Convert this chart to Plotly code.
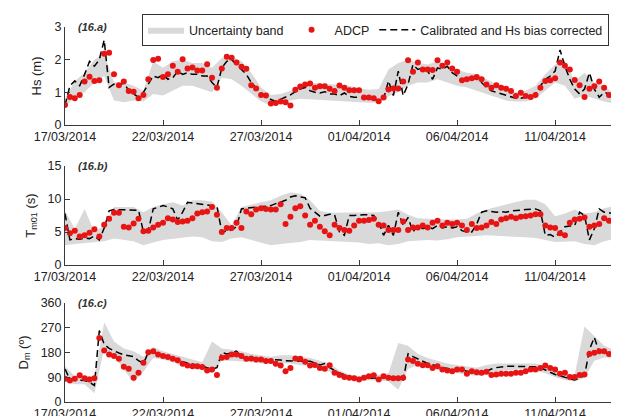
import pandas as pd
import plotly.graph_objects as go

# ---------------- data ----------------
t6 = pd.date_range("2014-03-17", periods=115, freq="6h")    # ADCP / model times
t12 = pd.date_range("2014-03-17", periods=58, freq="12h")   # uncertainty band times

tick_dates = ["2014-03-17", "2014-03-22", "2014-03-27", "2014-04-01", "2014-04-06", "2014-04-11"]
tick_labels = ["17/03/2014", "22/03/2014", "27/03/2014", "01/04/2014", "06/04/2014", "11/04/2014"]

hs_adcp = [0.61,0.86,0.82,0.92,1.33,1.48,1.35,1.37,2.18,2.21,
           1.55,1.22,1.33,1.04,1.02,0.82,0.92,1.40,1.99,2.03,
           1.47,1.55,1.81,1.63,2.01,1.73,1.76,1.67,1.67,1.86,
           1.45,1.14,1.73,2.09,2.06,1.91,1.78,1.72,1.22,1.12,
           0.92,0.90,0.66,0.67,0.72,0.70,0.60,1.08,1.18,1.24,
           1.27,1.14,1.19,1.19,1.11,1.04,1.21,1.14,1.06,1.06,
           1.06,0.84,0.84,0.82,0.73,0.84,1.09,1.12,1.12,1.33,
           1.98,1.63,1.91,1.70,1.70,1.68,1.98,1.81,1.91,1.73,
           1.63,1.37,1.40,1.43,1.47,1.40,1.24,1.14,1.22,1.14,
           1.11,1.04,0.89,0.99,0.89,0.86,0.92,1.14,1.35,1.37,
           1.43,1.91,1.81,1.70,1.38,1.22,0.86,1.11,1.19,1.33,
           1.14,0.92,0.70,0.68,0.70]
hs_model = [0.60,1.20,1.35,1.20,1.55,1.95,1.80,2.00,2.60,1.15,
            1.25,1.20,1.30,1.05,0.95,0.85,1.00,1.25,1.50,1.45,
            1.55,1.40,1.45,1.65,1.55,1.60,1.55,1.55,1.50,1.50,
            1.30,1.15,1.75,1.95,2.00,1.85,1.70,1.55,1.30,1.15,
            0.98,0.88,0.78,0.72,0.78,0.85,0.92,1.02,1.10,1.15,
            1.05,1.00,0.98,1.02,0.95,0.95,0.90,0.98,0.88,0.85,
            0.85,0.82,0.80,0.78,0.76,0.80,1.35,0.90,1.65,0.90,
            1.25,1.85,1.70,1.75,1.65,1.40,1.75,1.70,1.80,1.60,
            1.50,1.40,1.45,1.45,1.40,1.30,1.15,1.05,1.00,0.95,
            0.90,0.85,0.82,0.82,0.85,0.85,0.95,1.20,1.40,1.50,
            1.65,2.30,1.80,1.40,1.10,0.95,1.10,1.60,1.10,0.85,
            1.00,0.95,0.85,0.80,0.70]
hs_low = [0.55,0.85,1.0,1.3,1.5,0.75,0.7,0.75,0.72,0.95,
          0.9,1.05,1.2,1.2,1.1,1.0,1.45,1.4,1.2,0.95,
          0.72,0.6,0.68,0.75,0.8,0.78,0.76,0.75,0.74,0.72,
          0.7,0.68,0.7,0.88,1.0,1.2,1.3,1.3,1.4,1.3,
          1.2,1.15,1.05,0.95,0.85,0.75,0.72,0.72,0.8,1.05,
          1.3,1.2,0.8,0.9,0.8,0.72,0.65,0.62]
hs_up = [0.8,1.35,1.6,2.0,2.2,1.3,1.3,1.2,1.05,1.95,
         1.75,1.95,2.0,1.9,1.9,1.75,2.05,2.1,1.95,1.6,
         1.15,0.92,0.95,1.05,1.25,1.3,1.28,1.25,1.22,1.2,
         1.12,1.08,1.1,1.7,1.9,2.0,1.9,1.85,1.95,1.85,
         1.7,1.6,1.55,1.4,1.25,1.1,1.0,1.05,1.2,1.55,
         1.85,1.95,1.35,1.6,1.3,1.2,0.95,0.9]

tm_adcp = [5.6,4.8,5.2,4.3,4.5,4.9,5.4,4.3,6.1,7.0,
           7.9,7.9,5.8,5.7,6.3,7.0,5.1,5.2,5.7,6.1,
           6.4,7.1,6.9,6.5,6.6,6.7,7.1,7.8,8.0,8.1,
           8.8,7.6,5.0,5.6,5.6,6.4,5.6,8.1,7.7,8.4,
           8.6,8.5,8.4,8.4,9.2,6.2,7.3,8.6,8.9,7.5,
           6.1,6.7,5.8,5.1,4.5,6.1,5.6,5.3,5.2,6.0,
           6.7,6.7,6.8,7.0,6.1,6.0,5.3,5.3,5.3,6.6,
           5.3,5.7,5.7,6.0,5.7,6.4,6.7,6.0,6.4,6.2,
           6.4,6.0,5.3,6.2,5.6,5.7,6.0,6.5,6.2,6.9,
           7.1,7.3,7.1,7.3,7.4,7.5,7.7,7.7,6.0,5.7,
           5.6,4.8,4.5,6.4,6.9,7.0,7.2,5.8,6.0,6.2,
           7.1,6.7,6.6,7.6,7.9]
tm_model = [7.8,3.8,4.0,3.9,4.1,4.0,4.4,3.8,5.6,8.2,
            8.4,8.4,8.3,8.3,8.4,8.3,5.0,5.2,8.5,8.8,
            9.0,8.8,8.5,6.8,8.0,9.5,9.4,9.3,9.3,9.2,
            9.0,8.9,5.0,5.2,5.3,5.8,8.5,8.6,8.7,8.7,
            8.8,8.9,9.0,9.3,9.5,9.8,10.3,10.5,10.3,10.2,
            8.6,8.0,7.4,7.5,7.7,7.6,5.0,4.5,7.5,7.5,
            7.6,7.6,7.6,7.5,6.5,4.5,6.0,4.5,8.0,6.0,
            7.2,5.0,6.0,5.5,5.8,5.5,6.0,5.6,5.8,5.6,
            5.8,5.2,5.0,5.0,6.2,8.0,8.2,8.1,8.0,8.1,
            8.0,8.2,8.2,8.3,8.4,8.5,8.5,8.2,4.5,4.6,
            4.2,5.0,5.8,5.9,6.0,8.0,7.5,3.8,5.5,8.5,
            8.0,7.9,7.8,7.6,7.5]
tm_low = [3.0,3.2,3.4,3.5,3.6,4.0,3.8,3.6,3.0,3.4,
          3.8,4.0,4.1,4.3,4.2,3.6,3.5,4.0,4.2,3.8,
          3.4,3.0,3.2,3.4,3.5,3.8,3.8,3.7,3.6,3.5,
          3.4,3.2,3.3,3.0,3.2,3.6,3.7,3.8,3.7,3.9,
          4.2,4.3,4.4,4.5,4.5,4.4,4.3,4.2,4.1,3.8,
          3.5,3.6,3.6,3.2,3.0,3.6,3.9,4.2]
tm_up = [8.2,5.5,8.5,5.0,6.0,8.8,8.8,8.8,8.0,8.8,
         9.2,9.5,9.0,9.8,9.8,9.6,8.0,6.0,8.8,9.2,
         9.5,9.8,10.5,11.0,10.8,9.8,8.2,7.9,7.9,8.0,
         8.0,7.9,8.0,8.2,8.4,7.6,7.1,7.0,6.9,6.9,
         6.9,7.0,7.8,8.4,8.8,9.2,9.5,9.9,9.9,9.2,
         7.4,7.8,8.4,7.8,8.0,8.6,8.9,8.7]

dm_adcp = [85,78,85,97,86,82,86,233,187,173,
           167,157,128,121,88,106,143,181,185,173,
           167,164,157,152,139,133,130,130,127,115,
           118,98,161,164,173,173,167,157,158,155,
           155,149,149,139,133,112,124,158,157,146,
           133,135,124,121,134,106,98,91,88,86,
           82,88,94,97,82,94,88,86,86,88,
           155,149,139,134,134,124,130,118,115,112,
           118,118,103,112,108,106,110,98,100,103,
           103,103,106,106,112,118,118,124,133,124,
           118,103,106,91,91,98,100,175,179,185,
           185,175,173,155,155]
dm_model = [120,82,80,80,78,72,60,260,210,195,
            185,178,172,168,165,150,140,180,182,175,
            170,165,160,150,145,142,138,135,130,125,
            120,125,180,175,178,185,165,155,155,155,
            155,155,155,155,153,150,150,150,150,150,
            148,142,135,140,125,115,105,100,90,88,
            85,85,86,88,88,88,90,88,88,80,
            175,165,155,148,140,135,128,125,122,118,
            118,115,112,108,105,103,112,120,125,128,
            130,130,130,130,130,130,128,125,115,108,
            100,95,90,85,80,88,95,190,235,180,
            185,170,168,165,155]
dm_low = [75,65,65,32,195,165,120,72,110,160,
          155,145,130,122,115,105,150,150,148,145,
          140,140,140,140,135,130,120,110,88,80,
          78,78,78,75,45,120,135,125,118,110,
          105,100,95,100,110,115,118,120,115,105,
          90,80,75,88,150,162,160,150]
dm_up = [130,95,95,95,290,220,195,185,165,200,
         185,175,165,155,145,220,195,190,185,175,
         170,165,170,170,165,160,150,140,115,100,
         95,95,100,105,215,205,175,160,150,140,
         135,130,125,135,140,140,140,140,140,130,
         115,105,100,275,240,205,190,180]

y_ranges = [[0, 3], [0, 15], [0, 360]]
y_ticks = [[0, 1, 2, 3], [0, 5, 10, 15], [0, 90, 180, 270, 360]]
y_titles = ["Hs (m)", "T<sub>m01</sub> (s)", "D<sub>m</sub> (º)"]
panel_labels = ["(16.a)", "(16.b)", "(16.c)"]

for arr in (hs_adcp, hs_model, tm_adcp, tm_model, dm_adcp, dm_model):
    assert len(arr) == len(t6), len(arr)
for arr in (hs_low, hs_up, tm_low, tm_up, dm_low, dm_up):
    assert len(arr) == len(t12), len(arr)

panels = [(hs_adcp, hs_model, hs_low, hs_up),
          (tm_adcp, tm_model, tm_low, tm_up),
          (dm_adcp, dm_model, dm_low, dm_up)]

# ---------------- figure ----------------
W, H = 619, 416
L = 57
FONT = "Liberation Sans, Arial, sans-serif"
RED = "rgb(232,20,20)"
GRAY = "rgb(217,217,217)"
AX = "#3a3a3a"
TXT = "#222"

# panel pixel extents (top, bottom)
px = [(19, 117), (158, 257), (295, 394)]

fig = go.Figure()
band_x = list(t12) + list(t12[::-1])
for i, (adcp, model, low, up) in enumerate(panels):
    n = "" if i == 0 else str(i + 1)
    xa, ya = "x" + n, "y" + n
    show = i == 0
    fig.add_trace(go.Scatter(
        x=band_x, y=list(up) + list(low[::-1]), fill="toself", fillcolor=GRAY,
        mode="lines", line=dict(width=0, color=GRAY), name="Uncertainty band",
        showlegend=show, legendrank=1, xaxis=xa, yaxis=ya, hoverinfo="skip"))
    fig.add_trace(go.Scatter(
        x=t6, y=model, mode="lines", line=dict(color="black", width=1.5, dash="7px,4px"),
        name="Calibrated and Hs bias corrected", showlegend=show, legendrank=3,
        xaxis=xa, yaxis=ya))
    fig.add_trace(go.Scatter(
        x=t6, y=adcp, mode="markers", marker=dict(color=RED, size=6, line=dict(width=0)),
        name="ADCP", showlegend=show, legendrank=2, xaxis=xa, yaxis=ya))

    top, bot = px[i]
    dom = [(H - bot) / H, (H - top) / H]
    xcfg = dict(type="date", range=["2014-03-17", "2014-04-14 16:00"],
                tickvals=tick_dates, ticktext=tick_labels, ticks="inside", ticklen=5,
                tickcolor=AX, showline=True, linecolor=AX, linewidth=1,
                showgrid=False, zeroline=False, anchor=ya,
                automargin=False,
                tickfont=dict(size=12.5, color=TXT, family=FONT), domain=[0, 1])
    ycfg = dict(range=y_ranges[i], tickvals=y_ticks[i], ticks="inside", ticklen=5,
                tickcolor=AX, showline=True, linecolor=AX, linewidth=1,
                showgrid=False, zeroline=False, anchor=xa, domain=dom,
                automargin=False,
                tickfont=dict(size=12.5, color=TXT, family=FONT),
                title=dict(text=y_titles[i], font=dict(size=13, color=TXT, family=FONT),
                           standoff=9))
    fig.layout["xaxis" + n] = xcfg
    fig.layout["yaxis" + n] = ycfg
    fig.add_annotation(text="<i><b>" + panel_labels[i] + "</b></i>", xref="paper", yref="paper",
                       x=(68 - L) / (W - L), y=(H - top) / H, xanchor="left", yanchor="middle",
                       showarrow=False, font=dict(size=11, color="#333", family=FONT))

fig.update_layout(
    width=W, height=H, margin=dict(l=L, r=0, t=0, b=0, autoexpand=False),
    paper_bgcolor="white", plot_bgcolor="white",
    font=dict(family=FONT, color=TXT),
    showlegend=True,
    legend=dict(orientation="h", x=(134 - L) / (W - L), y=(H - 6) / H,
                xanchor="left", yanchor="top", bgcolor="white",
                bordercolor="#333", borderwidth=1, font=dict(size=12.5, family=FONT),
                itemwidth=36, tracegroupgap=0),
)

fig.write_html("out.html")
